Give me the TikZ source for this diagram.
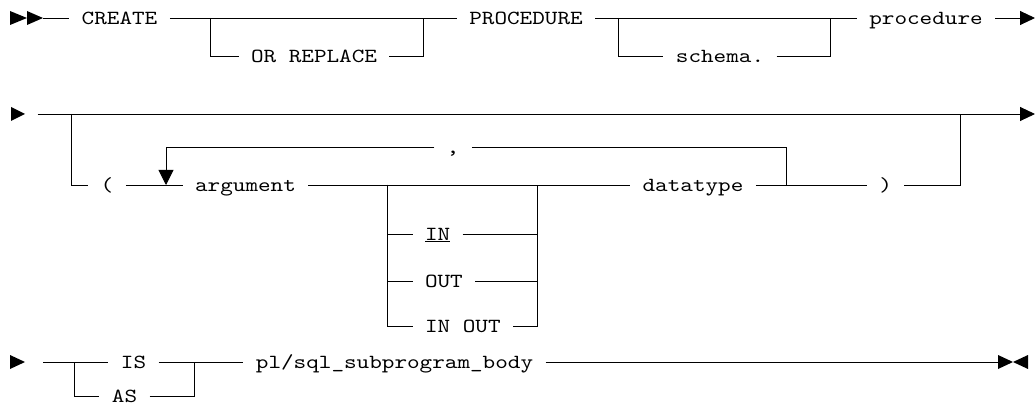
\documentclass[tikz,border=0pt]{standalone}
\usepackage{fontspec}
\setmonofont{lmmono10-regular.otf}[FakeStretch=1.2]
\usetikzlibrary{arrows.meta}
\begin{document}
\begin{tikzpicture}[x=1pt,y=-1pt,line width=0.9pt,
  lbl/.style={inner xsep=12pt,inner ysep=0pt,text height=12.2pt,text depth=0pt,
    font=\ttfamily\fontsize{20}{20}\selectfont},
  tip/.style={-{Triangle[length=15pt,width=14pt]}},
  dtip/.style={-{Triangle[length=15pt,width=15pt]}}]
\useasboundingbox (0,0) rectangle (1035,406);
% ---------- row 1 ----------
\fill (10,11) -- (10,25) -- (27,18) -- cycle;
\fill (27,11) -- (27,25) -- (43,18) -- cycle;
\coordinate (r1s) at (43,18);
\node[lbl] (create) at (119.5,18) {CREATE};
\coordinate (b1l) at (210,18);
\coordinate (b1r) at (423,18);
\node[lbl] (orrep) at (314,56) {OR REPLACE};
\node[lbl] (proc) at (526,18) {PROCEDURE};
\coordinate (b2l) at (618,18);
\coordinate (b2r) at (830,18);
\node[lbl] (schema) at (720,56) {schema.};
\node[lbl] (pname) at (926,18) {procedure};
\coordinate (r1e) at (1035,18);
\draw (r1s) -- (create.west);
\draw (create.east) -- (proc.west);
\draw (b1l) |- (orrep.west);
\draw (orrep.east) -| (b1r);
\draw (proc.east) -- (pname.west);
\draw (b2l) |- (schema.west);
\draw (schema.east) -| (b2r);
\draw[tip] (pname.east) -- (r1e);
% ---------- row 2 ----------
\fill (11,107) -- (11,121) -- (25,114) -- cycle;
\coordinate (r2s) at (37.5,114);
\coordinate (r2e) at (1035,114);
\coordinate (b3l) at (71.5,114);
\coordinate (b3r) at (960.7,114);
\node[lbl] (lp) at (107,185) {(};
\node[lbl] (arg) at (245.5,185) {argument};
\coordinate (loopd) at (166,185);
\node[lbl] (comma) at (453,147) {,};
\coordinate (loopb) at (786,185);
\coordinate (mbl) at (387.5,185);
\coordinate (mbr) at (537.5,185);
\node[lbl] (in) at (437.6,234) {\underline{IN}};
\node[lbl] (out) at (443.9,281) {OUT};
\node[lbl] (inout) at (462.8,326) {IN OUT};
\node[lbl] (dt) at (693,185) {datatype};
\node[lbl] (rp) at (885.6,185) {)};
\draw[tip] (r2s) -- (r2e);
\draw (b3l) |- (lp.west);
\draw (lp.east) -- (arg.west);
\draw[dtip] (comma.west) -| (loopd);
\draw (comma.east) -| (loopb);
\draw (arg.east) -- (dt.west);
\draw (mbl) |- (in.west);
\draw (in.east) -| (mbr);
\draw (mbl) |- (out.west);
\draw (out.east) -| (mbr);
\draw (mbl) |- (inout.west);
\draw (inout.east) -| (mbr);
\draw (dt.east) -- (rp.west);
\draw (rp.east) -| (b3r);
% ---------- row 3 ----------
\fill (10,355) -- (10,369) -- (25,362) -- cycle;
\coordinate (r3s) at (43,362);
\coordinate (b4l) at (74,362);
\coordinate (b4r) at (194,362);
\node[lbl] (is) at (133.5,362) {IS};
\node[lbl] (as) at (124.5,396) {AS};
\node[lbl] (body) at (394.5,362) {pl/sql\_subprogram\_body};
\coordinate (r3e) at (998,362);
\draw (r3s) -- (is.west);
\draw (b4l) |- (as.west);
\draw (as.east) -| (b4r);
\draw (is.east) -- (body.west);
\draw (body.east) -- (r3e);
\fill (998,355) -- (998,369) -- (1013,362) -- cycle;
\fill (1028,355) -- (1028,369) -- (1013,362) -- cycle;
\end{tikzpicture}
\end{document}
